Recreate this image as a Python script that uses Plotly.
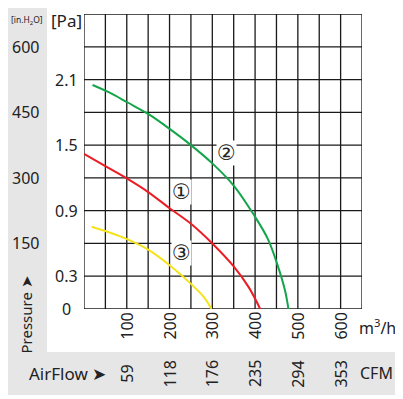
import plotly.graph_objects as go

# ---- data ----
q1 = [0, 53, 102, 150, 201, 250, 300, 350, 385, 412]
p1 = [1.42, 1.30, 1.19, 1.07, 0.92, 0.78, 0.60, 0.39, 0.20, 0.0]

q2 = [20, 60, 102, 150, 201, 250, 300, 350, 398, 430, 451, 470, 478]
p2 = [2.05, 1.98, 1.89, 1.785, 1.646, 1.50, 1.333, 1.13, 0.856, 0.64, 0.42, 0.17, 0.0]

q3 = [18, 53, 102, 150, 201, 252, 280, 298]
p3 = [0.753, 0.709, 0.637, 0.543, 0.398, 0.223, 0.11, 0.0]

curve_colors = ["#ed1c24", "#13a54a", "#f5e31a"]
curve_labels = ["①", "②", "③"]
label_q = [227, 333, 229]
label_p = [1.07, 1.425, 0.515]

x_grid = list(range(0, 651, 50))
y_grid = [0, 0.3, 0.6, 0.9, 1.2, 1.5, 1.8, 2.1, 2.4, 2.7]
x_tick_vals = [100, 200, 300, 400, 500, 600]
cfm_labels = ["59", "118", "176", "235", "294", "353"]
y_pa_vals = [0, 0.3, 0.9, 1.5, 2.1]
y_pa_labels = ["0", "0.3", "0.9", "1.5", "2.1"]
inh2o_labels = [150, 300, 450, 600]

# ---- figure geometry (page body has an 8px margin) ----
OFF = 8
W, H = 403 - OFF, 399 - OFF
L, R, T, B = 84 - OFF, 41, 14 - OFF, 98 - OFF
pw, ph = W - L - R, H - T - B


def px2paper_x(px):
    return (px - OFF - L) / pw


def py2paper_y(py):
    return (H - B - (py - OFF)) / ph


fig = go.Figure()
for q, p, c in zip([q1, q2, q3], [p1, p2, p3], curve_colors):
    fig.add_trace(go.Scatter(x=q, y=p, mode="lines",
                             line=dict(color=c, width=2, shape="spline", smoothing=1.0),
                             hoverinfo="skip", showlegend=False))

FONT = "Noto Sans, sans-serif"
TXT = "#222222"
C = dict(xanchor="center", yanchor="middle", showarrow=False)
ann = []
for t, xq, yp in zip(curve_labels, label_q, label_p):
    ann.append(dict(x=xq, y=yp, xref="x", yref="y", text=t, bgcolor="white", borderpad=0,
                    font=dict(family="DejaVu Sans", size=21, color=TXT), **C))
for v in x_tick_vals:
    ann.append(dict(x=v, y=py2paper_y(326), xref="x", yref="paper", text=str(v), textangle=-90,
                    font=dict(family=FONT, size=16, color=TXT), **C))
for v, t in zip(x_tick_vals, cfm_labels):
    ann.append(dict(x=v, y=py2paper_y(374), xref="x", yref="paper", text=t, textangle=-90,
                    font=dict(family=FONT, size=16, color=TXT), **C))
for v, t in zip(y_pa_vals, y_pa_labels):
    ann.append(dict(x=px2paper_x(66), y=v, xref="paper", yref="y", text=t,
                    font=dict(family=FONT, size=16, color=TXT), **C))
for v in inh2o_labels:
    ann.append(dict(x=px2paper_x(25.5), y=v / 250, xref="paper", yref="y", text=str(v),
                    font=dict(family=FONT, size=16, color=TXT), **C))

ann += [
    dict(x=px2paper_x(66), y=py2paper_y(21), xref="paper", yref="paper", text="[Pa]",
         font=dict(family=FONT, size=17, color=TXT), **C),
    dict(x=px2paper_x(27), y=py2paper_y(20), xref="paper", yref="paper", text="[in.H<sub>2</sub>O]",
         font=dict(family=FONT, size=8.5, color=TXT), **C),
    dict(x=px2paper_x(377), y=py2paper_y(327), xref="paper", yref="paper", text="m<sup>3</sup>/h",
         font=dict(family=FONT, size=16, color=TXT), **C),
    dict(x=px2paper_x(376), y=py2paper_y(373), xref="paper", yref="paper", text="CFM",
         font=dict(family=FONT, size=16, color=TXT), **C),
    dict(x=px2paper_x(67.5), y=py2paper_y(373), xref="paper", yref="paper", text="AirFlow ➤",
         font=dict(family=FONT, size=17, color=TXT), **C),
    dict(x=px2paper_x(25.5), y=py2paper_y(315), xref="paper", yref="paper", text="Pressure ➤",
         textangle=-90, font=dict(family=FONT, size=15, color=TXT), **C),
]

GRAY = "#e6e6e6"
shapes = [
    dict(type="rect", xref="paper", yref="paper", layer="below", line=dict(width=0), fillcolor=GRAY,
         x0=px2paper_x(3), x1=px2paper_x(47), y0=py2paper_y(395), y1=py2paper_y(3)),
    dict(type="rect", xref="paper", yref="paper", layer="below", line=dict(width=0), fillcolor=GRAY,
         x0=px2paper_x(3), x1=px2paper_x(396), y0=py2paper_y(395), y1=py2paper_y(352)),
]
GRID = dict(color="#1a1a1a", width=1.3)
for gx in x_grid:
    shapes.append(dict(type="line", xref="x", yref="y", layer="between", x0=gx, x1=gx,
                       y0=y_grid[0], y1=y_grid[-1], line=GRID))
for gy in y_grid:
    shapes.append(dict(type="line", xref="x", yref="y", layer="between", x0=x_grid[0], x1=x_grid[-1],
                       y0=gy, y1=gy, line=GRID))

fig.update_layout(
    width=W, height=H, margin=dict(l=L, r=R, t=T, b=B, autoexpand=False),
    paper_bgcolor="white", plot_bgcolor="white",
    annotations=ann, shapes=shapes, showlegend=False,
)
fig.update_xaxes(range=[0, 650], showgrid=False, showticklabels=False, ticks="",
                 zeroline=False, showline=False)
fig.update_yaxes(range=[0, 2.7], showgrid=False, showticklabels=False, ticks="",
                 zeroline=False, showline=False)

fig.write_html("out.html")
